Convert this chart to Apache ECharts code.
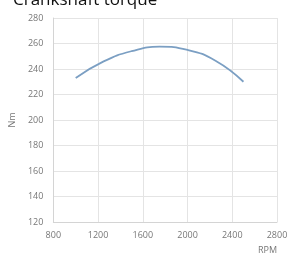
<!DOCTYPE html>
<html>
<head>
<meta charset="utf-8">
<script src="https://cdn.jsdelivr.net/npm/echarts@6/dist/echarts.min.js"></script>
<style>
html, body { margin: 0; padding: 0; background: #fff; }
#chart { width: 292px; height: 260px; }
</style>
</head>
<body>
<div id="chart"></div>
<script>
// torque curve
const rpm = [1000, 1250, 1500, 1750, 2000, 2250, 2500];
const torque = [233, 246, 254, 257.5, 255, 246.5, 230];

const chart = echarts.init(document.getElementById("chart"));
chart.setOption({
    animation: false,
    title: {
        text: "Crankshaft torque",
        left: 8,
        top: -13,
        textStyle: { fontFamily: "Open Sans", fontSize: 17, fontWeight: "normal", color: "#111" }
    },
    grid: { left: 50, right: 15, top: 18, bottom: 38 },
    xAxis: {
        type: "value",
        min: 800,
        max: 2800,
        interval: 400,
        name: "RPM",
        nameLocation: "end",
        nameGap: 0,
        nameTextStyle: { color: "#777", fontSize: 9, fontFamily: "Open Sans", align: "right", verticalAlign: "top", padding: [24, 0, 0, 0] },
        axisLine: { lineStyle: { color: "#d4d4d4" } },
        axisTick: { show: false },
        axisLabel: { color: "#777", fontSize: 9, fontFamily: "Open Sans", margin: 9, formatter: v => String(v) },
        splitLine: { lineStyle: { color: "#e4e4e4" } }
    },
    yAxis: {
        type: "value",
        min: 120,
        max: 280,
        interval: 20,
        name: "Nm",
        nameLocation: "middle",
        nameGap: 36,
        nameRotate: 90,
        nameTextStyle: { color: "#777", fontSize: 9, fontFamily: "Open Sans" },
        axisLine: { show: true, lineStyle: { color: "#d4d4d4" } },
        axisTick: { show: false },
        axisLabel: { color: "#777", fontSize: 9, fontFamily: "Open Sans", margin: 10 },
        splitLine: { lineStyle: { color: "#e4e4e4" } }
    },
    series: [{
        type: "line",
        data: rpm.map((r, i) => [r, torque[i]]),
        smooth: 0.5,
        showSymbol: false,
        lineStyle: { color: "#7b9fc3", width: 1.8 }
    }]
});
</script>
</body>
</html>
